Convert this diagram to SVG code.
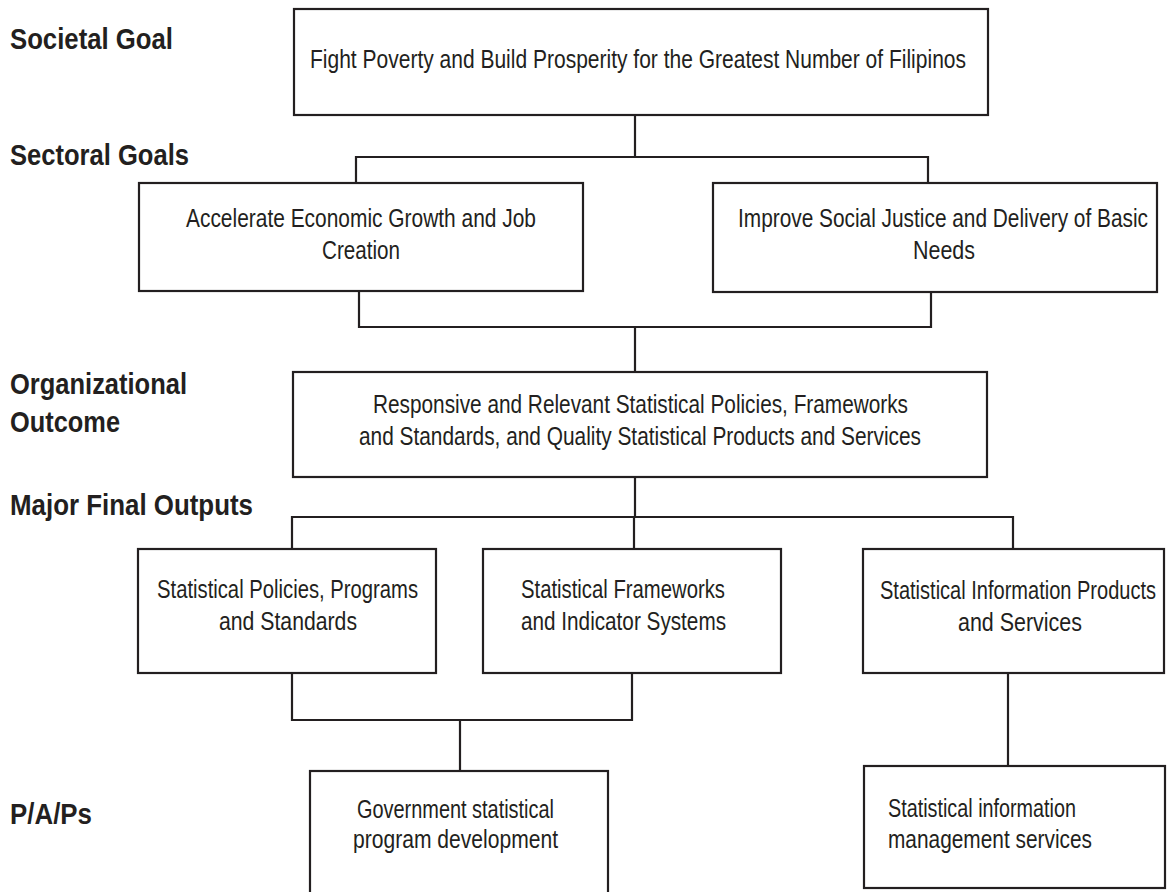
<svg xmlns="http://www.w3.org/2000/svg" width="1167" height="892" viewBox="0 0 1167 892">
<style>
.box{fill:#fff;stroke:#231f20;stroke-width:2.2}
.ln{fill:none;stroke:#231f20;stroke-width:2.2;stroke-linecap:square}
.t{font-family:"Liberation Sans",Arial,sans-serif;font-size:25px;fill:#231f20}
.lbl{font-family:"Liberation Sans",Arial,sans-serif;font-size:30px;font-weight:bold;fill:#231f20}
</style>
<rect width="1167" height="892" fill="#fff"/>
<g id="labels">
<text class="lbl" x="10" y="49" textLength="163" lengthAdjust="spacingAndGlyphs">Societal Goal</text>
<text class="lbl" x="10" y="165" textLength="179" lengthAdjust="spacingAndGlyphs">Sectoral Goals</text>
<text class="lbl" x="10" y="394" textLength="177" lengthAdjust="spacingAndGlyphs">Organizational</text>
<text class="lbl" x="10" y="432" textLength="110" lengthAdjust="spacingAndGlyphs">Outcome</text>
<text class="lbl" x="10" y="515" textLength="243" lengthAdjust="spacingAndGlyphs">Major Final Outputs</text>
<text class="lbl" x="10" y="824" textLength="82" lengthAdjust="spacingAndGlyphs">P/A/Ps</text>
</g>
<g id="connectors">
<path class="ln" d="M635 115V157M356 157H928M356 157V183M928 157V183"/>
<path class="ln" d="M359 291V327M931 292V327M359 327H931M635 327V372"/>
<path class="ln" d="M635 477V517M292 517H1013M292 517V549M634 517V549M1013 517V549"/>
<path class="ln" d="M292 673V720M632 673V720M292 720H632M460 720V771"/>
<path class="ln" d="M1008 673V766"/>
</g>
<g id="societal">
<rect class="box" x="294" y="9" width="694" height="106"/>
<text class="t" x="310" y="68" textLength="656" lengthAdjust="spacingAndGlyphs">Fight Poverty and Build Prosperity for the Greatest Number of Filipinos</text>
</g>
<g id="sectoral1">
<rect class="box" x="139" y="183" width="444" height="108"/>
<text class="t" x="186" y="227" textLength="350" lengthAdjust="spacingAndGlyphs">Accelerate Economic Growth and Job</text>
<text class="t" x="322" y="259" textLength="78" lengthAdjust="spacingAndGlyphs">Creation</text>
</g>
<g id="sectoral2">
<rect class="box" x="713" y="183" width="444" height="109"/>
<text class="t" x="738" y="227" textLength="410" lengthAdjust="spacingAndGlyphs">Improve Social Justice and Delivery of Basic</text>
<text class="t" x="913" y="259" textLength="62" lengthAdjust="spacingAndGlyphs">Needs</text>
</g>
<g id="outcome">
<rect class="box" x="293" y="372" width="694" height="105"/>
<text class="t" x="373" y="413" textLength="535" lengthAdjust="spacingAndGlyphs">Responsive and Relevant Statistical Policies, Frameworks</text>
<text class="t" x="359" y="445" textLength="562" lengthAdjust="spacingAndGlyphs">and Standards, and Quality Statistical Products and Services</text>
</g>
<g id="mfo1">
<rect class="box" x="138" y="549" width="298" height="124"/>
<text class="t" x="157" y="598" textLength="261" lengthAdjust="spacingAndGlyphs">Statistical Policies, Programs</text>
<text class="t" x="219" y="630" textLength="138" lengthAdjust="spacingAndGlyphs">and Standards</text>
</g>
<g id="mfo2">
<rect class="box" x="483" y="549" width="298" height="124"/>
<text class="t" x="521" y="598" textLength="204" lengthAdjust="spacingAndGlyphs">Statistical Frameworks</text>
<text class="t" x="521" y="630" textLength="205" lengthAdjust="spacingAndGlyphs">and Indicator Systems</text>
</g>
<g id="mfo3">
<rect class="box" x="863" y="549" width="301" height="124"/>
<text class="t" x="880" y="599" textLength="276" lengthAdjust="spacingAndGlyphs">Statistical Information Products</text>
<text class="t" x="958" y="631" textLength="124" lengthAdjust="spacingAndGlyphs">and Services</text>
</g>
<g id="pap1">
<rect class="box" x="310" y="771" width="298" height="140"/>
<text class="t" x="357" y="818" textLength="197" lengthAdjust="spacingAndGlyphs">Government statistical</text>
<text class="t" x="353" y="848" textLength="205" lengthAdjust="spacingAndGlyphs">program development</text>
</g>
<g id="pap2">
<rect class="box" x="864" y="766" width="301" height="122"/>
<text class="t" x="888" y="817" textLength="188" lengthAdjust="spacingAndGlyphs">Statistical information</text>
<text class="t" x="888" y="848" textLength="204" lengthAdjust="spacingAndGlyphs">management services</text>
</g>
</svg>
